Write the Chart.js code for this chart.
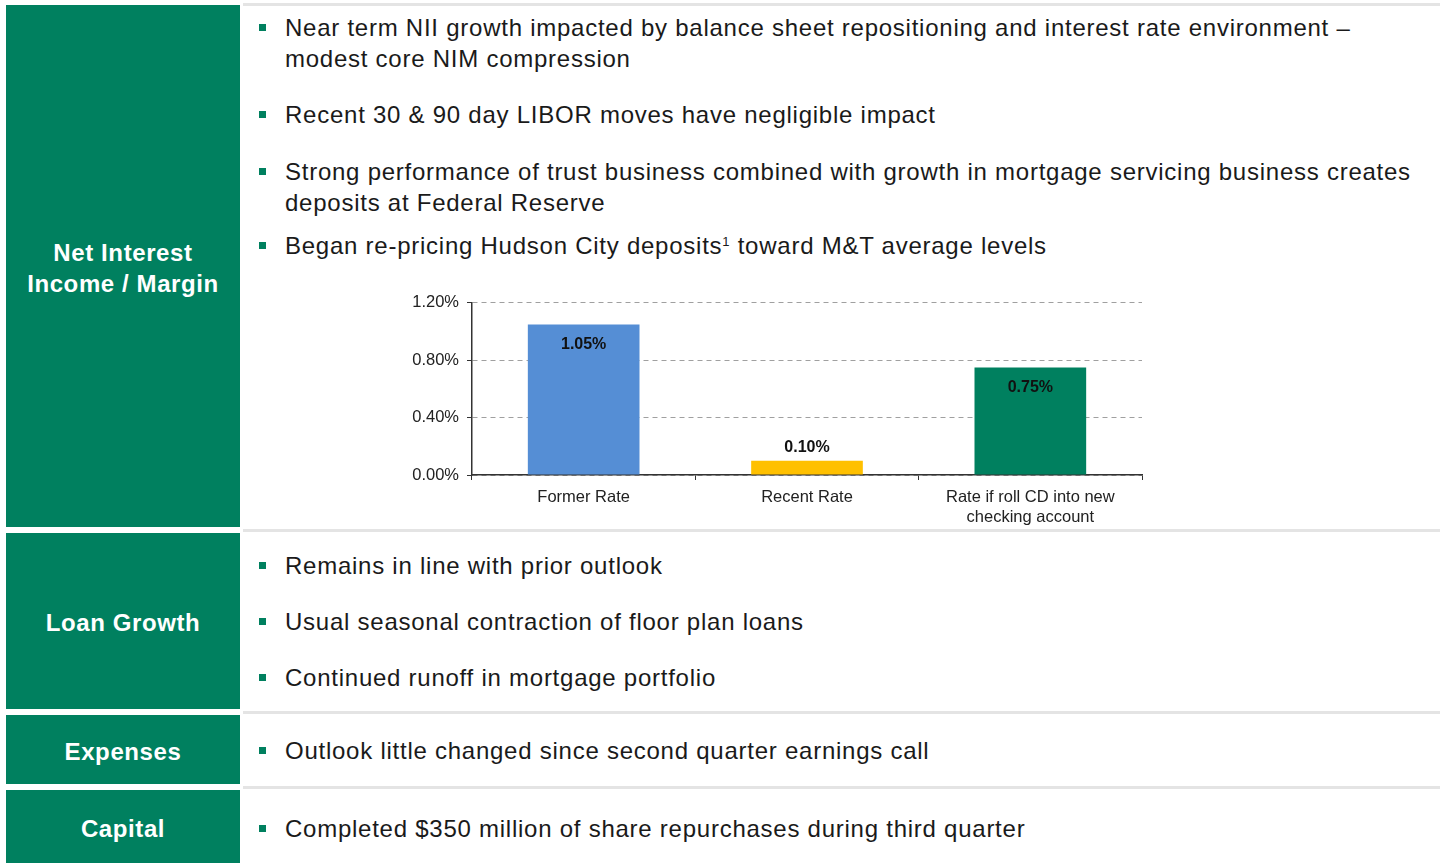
<!DOCTYPE html>
<html>
<head>
<meta charset="utf-8">
<script src="https://cdn.jsdelivr.net/npm/chart.js@4/dist/chart.umd.min.js"></script>
<style>
  body { margin: 0; width: 1450px; height: 863px; background: #fff; overflow: hidden; font-family: "Liberation Sans", Arial, sans-serif; position: relative; }
  .box { position: absolute; left: 6px; width: 234px; background: #00805f; color: #fff; font-weight: bold; font-size: 24px; letter-spacing: 0.6px; display: flex; align-items: center; justify-content: center; text-align: center; line-height: 31px; padding-top: 3px; box-sizing: border-box; }
  .sep { position: absolute; left: 243px; width: 1197px; height: 3px; background: #e4e4e4; }
  .b { position: absolute; left: 285px; font-size: 24px; letter-spacing: 0.75px; color: #1a1a1a; line-height: 31px; white-space: nowrap; }
  .b::before { content: ""; position: absolute; left: -26px; top: 12px; width: 7px; height: 7px; background: #00805f; }
  sup { font-size: 13px; vertical-align: 8px; line-height: 0; }
  #wrap { position: absolute; left: 390px; top: 285px; width: 770px; height: 247px; }
</style>
</head>
<body>
<div class="sep" style="top:3px"></div>
<div class="sep" style="top:529px"></div>
<div class="sep" style="top:711px"></div>
<div class="sep" style="top:786px"></div>

<div class="box" style="top:5px;height:522px">Net Interest<br>Income / Margin</div>
<div class="box" style="top:533px;height:176px">Loan Growth</div>
<div class="box" style="top:715px;height:69px">Expenses</div>
<div class="box" style="top:790px;height:73px">Capital</div>

<div class="b" style="top:12px">Near term NII growth impacted by balance sheet repositioning and interest rate environment –<br>modest core NIM compression</div>
<div class="b" style="top:99px">Recent 30 &amp; 90 day LIBOR moves have negligible impact</div>
<div class="b" style="top:156px">Strong performance of trust business combined with growth in mortgage servicing business creates<br>deposits at Federal Reserve</div>
<div class="b" style="top:230px">Began re-pricing Hudson City deposits<sup>1</sup> toward M&amp;T average levels</div>
<div class="b" style="top:550px">Remains in line with prior outlook</div>
<div class="b" style="top:606px">Usual seasonal contraction of floor plan loans</div>
<div class="b" style="top:662px">Continued runoff in mortgage portfolio</div>
<div class="b" style="top:735px">Outlook little changed since second quarter earnings call</div>
<div class="b" style="top:813px">Completed $350 million of share repurchases during third quarter</div>

<div id="wrap"><canvas id="rateChart"></canvas></div>

<script>
const categories = ["Former Rate", "Recent Rate", ["Rate if roll CD into new", "checking account"]];
const rates = [1.05, 0.10, 0.75];
const barColors = ["#558ed5", "#ffc000", "#00805f"];
const labelInside = [true, false, true];
const yTicks = [0, 0.4, 0.8, 1.2];

const valueLabels = {
  id: "valueLabels",
  afterDatasetsDraw(chart) {
    const ctx = chart.ctx;
    const meta = chart.getDatasetMeta(0);
    ctx.save();
    ctx.font = "bold 16px 'Liberation Sans', Arial, sans-serif";
    ctx.fillStyle = "#111";
    ctx.textAlign = "center";
    ctx.textBaseline = "middle";
    meta.data.forEach((bar, i) => {
      const y = labelInside[i] ? bar.y + 20 : bar.y - 13;
      ctx.fillText(rates[i].toFixed(2) + "%", bar.x, y);
    });
    ctx.restore();
  }
};

new Chart(document.getElementById("rateChart").getContext("2d"), {
  type: "bar",
  data: {
    labels: categories,
    datasets: [{
      data: rates,
      backgroundColor: barColors,
      categoryPercentage: 1,
      barPercentage: 0.5
    }]
  },
  options: {
    responsive: true,
    maintainAspectRatio: false,
    animation: false,
    layout: { padding: { top: 3, right: 18, left: 0, bottom: 0 } },
    plugins: { legend: { display: false }, tooltip: { enabled: false } },
    scales: {
      x: {
        grid: { display: true, drawOnChartArea: false, tickLength: 5, tickColor: "#333" },
        border: { color: "#333", width: 1.5 },
        ticks: { color: "#222", font: { size: 16.5, family: "'Liberation Sans', Arial, sans-serif", lineHeight: 1.25 }, padding: 7 },
        afterFit(scale) { scale.height = 57; }
      },
      y: {
        min: 0,
        max: 1.2,
        afterBuildTicks(scale) { scale.ticks = yTicks.map(v => ({ value: v })); },
        grid: { color: "#a0a0a0", lineWidth: 1, tickLength: 5, tickColor: "#333", tickBorderDash: [] },
        border: { color: "#333", width: 1.5, dash: [5, 4] },
        ticks: {
          color: "#222",
          font: { size: 16.5, family: "'Liberation Sans', Arial, sans-serif" },
          padding: 8,
          callback: v => v.toFixed(2) + "%"
        },
        afterFit(scale) { scale.width = 82; }
      }
    }
  },
  plugins: [valueLabels]
});
</script>
</body>
</html>
